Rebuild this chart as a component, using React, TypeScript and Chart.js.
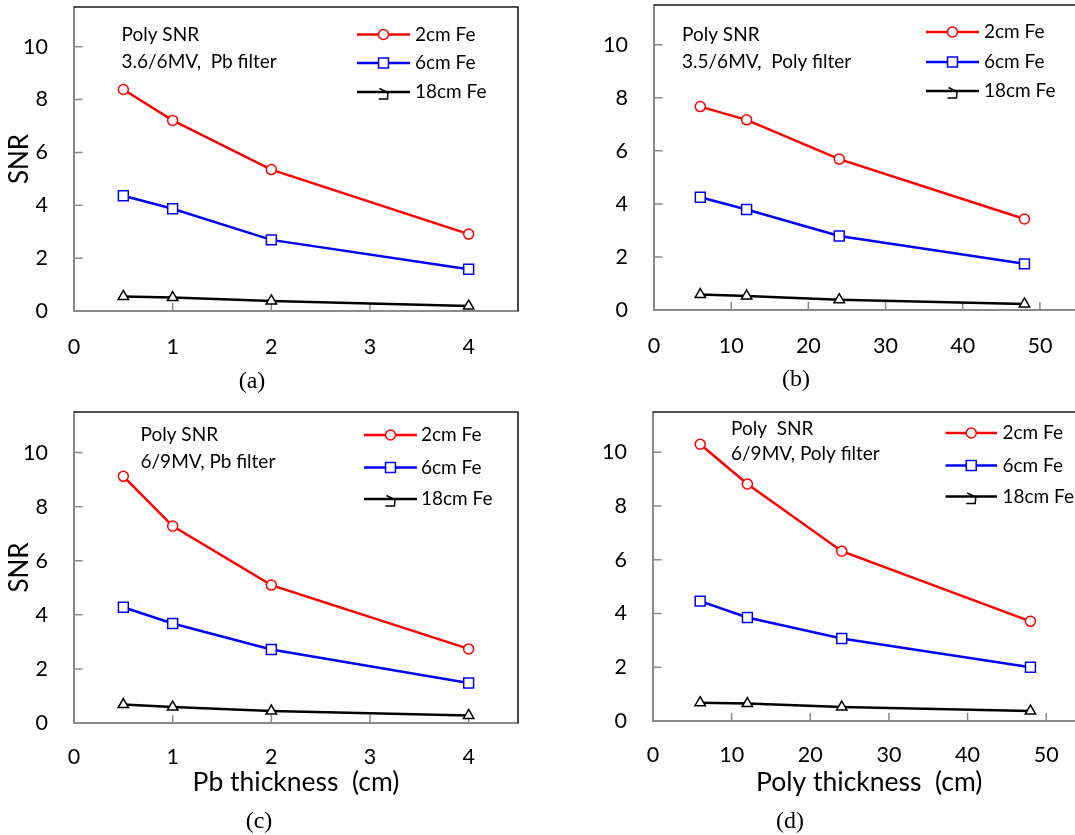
import React, { useEffect, useRef } from 'react';
import { Chart, registerables } from 'chart.js';

Chart.register(...registerables);

// ---------------- data ----------------
const pbThickness = [0.5, 1, 2, 4];
const polyThickness = [6, 12, 24, 48];
const pbTicks = [0, 1, 2, 3, 4];
const polyTicks = [0, 10, 20, 30, 40, 50];
const snrTicks = [0, 2, 4, 6, 8, 10];
const seriesNames = ['2cm Fe', '6cm Fe', '18cm Fe'];

const aFe2 = [8.38, 7.21, 5.35, 2.91];
const aFe6 = [4.36, 3.87, 2.69, 1.58];
const aFe18 = [0.55, 0.51, 0.38, 0.19];

const bFe2 = [7.67, 7.17, 5.69, 3.43];
const bFe6 = [4.25, 3.79, 2.79, 1.74];
const bFe18 = [0.58, 0.53, 0.39, 0.23];

const cFe2 = [9.12, 7.28, 5.1, 2.74];
const cFe6 = [4.28, 3.68, 2.72, 1.48];
const cFe18 = [0.68, 0.59, 0.44, 0.28];

const dFe2 = [10.3, 8.82, 6.32, 3.71];
const dFe6 = [4.46, 3.85, 3.07, 2.0];
const dFe18 = [0.68, 0.65, 0.52, 0.37];

// ---------------- styles ----------------
const SANS = 'Lato, "Open Sans", sans-serif';
const SERIF = '"Liberation Serif", "Times New Roman", serif';
const AXIS_GRAY = '#8a8a8a';
const COLORS = ['#ff0000', '#0000ff', '#000000'];
const STYLES = ['circle', 'rect', 'triangle'];
const RADII = [5, 7, 6];

type PanelCfg = {
  left: number; top: number; width: number; height: number;
  xs: number[]; xTicks: number[]; xMax: number;
  series: number[][];
  yWidth: number; xHeight: number; padTop: number; padRight: number; xLabelPad: number;
  yTitle: boolean; xTitle?: string;
  notes: string[]; noteX: number; noteY: number[];
  legX0: number; legX1: number; legTextX: number; legY: number[];
  caption: string; capX: number; capY: number;
};

const panels: PanelCfg[] = [
  {
    left: 0, top: 0, width: 540, height: 400,
    xs: pbThickness, xTicks: pbTicks, xMax: 4.5,
    series: [aFe2, aFe6, aFe18],
    yWidth: 74, xHeight: 89, padTop: 7, padRight: 22, xLabelPad: 23,
    yTitle: true,
    notes: ['Poly SNR', '3.6/6MV,  Pb filter'], noteX: 121.5, noteY: [35, 62],
    legX0: 357, legX1: 410, legTextX: 415, legY: [34.5, 63, 92],
    caption: '(a)', capX: 252, capY: 382,
  },
  {
    left: 540, top: 0, width: 600, height: 400,
    xs: polyThickness, xTicks: polyTicks, xMax: 55,
    series: [bFe2, bFe6, bFe18],
    yWidth: 114, xHeight: 90, padTop: 5, padRight: 61.5, xLabelPad: 23,
    yTitle: false,
    notes: ['Poly SNR', '3.5/6MV,  Poly filter'], noteX: 142, noteY: [35, 62],
    legX0: 386, legX1: 439, legTextX: 444, legY: [32, 62, 91],
    caption: '(b)', capX: 256, capY: 380,
  },
  {
    left: 0, top: 400, width: 540, height: 435,
    xs: pbThickness, xTicks: pbTicks, xMax: 4.5,
    series: [cFe2, cFe6, cFe18],
    yWidth: 74, xHeight: 112, padTop: 12, padRight: 22, xLabelPad: 21,
    yTitle: true, xTitle: 'Pb thickness  (cm)',
    notes: ['Poly SNR', '6/9MV, Pb filter'], noteX: 140.5, noteY: [35, 62],
    legX0: 364, legX1: 417, legTextX: 421, legY: [35, 67.5, 99],
    caption: '(c)', capX: 259, capY: 421.5,
  },
  {
    left: 540, top: 400, width: 600, height: 435,
    xs: polyThickness, xTicks: polyTicks, xMax: 55,
    series: [dFe2, dFe6, dFe18],
    yWidth: 113, xHeight: 114, padTop: 12, padRight: 54.5, xLabelPad: 21,
    yTitle: false, xTitle: 'Poly thickness  (cm)',
    notes: ['Poly  SNR', '6/9MV, Poly filter'], noteX: 191, noteY: [29, 54],
    legX0: 405.5, legX1: 457, legTextX: 462.5, legY: [33, 65.5, 96.5],
    caption: '(d)', capX: 250, capY: 421.5,
  },
];

function drawMarker(ctx: CanvasRenderingContext2D, idx: number, x: number, y: number) {
  ctx.save();
  ctx.strokeStyle = COLORS[idx];
  ctx.lineWidth = 1.5;
  ctx.fillStyle = '#ffffff';
  ctx.beginPath();
  if (idx === 0) {
    ctx.arc(x, y, RADII[0], 0, Math.PI * 2);
    ctx.fill();
    ctx.stroke();
  } else if (idx === 1) {
    const s = RADII[1] * Math.SQRT1_2;
    ctx.rect(x - s, y - s, 2 * s, 2 * s);
    ctx.fill();
    ctx.stroke();
  } else {
    // odd little glyph used in the original legend
    ctx.moveTo(x - 4, y - 3.5);
    ctx.lineTo(x + 3, y);
    ctx.moveTo(x - 5, y + 7);
    ctx.lineTo(x + 4, y + 7);
    ctx.lineTo(x + 4.5, y);
    ctx.stroke();
  }
  ctx.restore();
}

const decorPlugin = {
  id: 'decor',
  beforeDatasetsDraw(chart: any) {
    const { ctx, chartArea: ca, scales } = chart;
    const xs = scales.x;
    const ys = scales.y;
    ctx.save();
    ctx.strokeStyle = AXIS_GRAY;
    ctx.lineWidth = 1.5;
    ctx.beginPath();
    xs.ticks.forEach((t: any) => {
      if (t.value === xs.min) return;
      const px = xs.getPixelForValue(t.value);
      if (px >= ca.right - 1) return;
      ctx.moveTo(px, ca.bottom);
      ctx.lineTo(px, ca.bottom - 8);
    });
    ys.ticks.forEach((t: any) => {
      if (t.value === ys.min) return;
      const py = ys.getPixelForValue(t.value);
      ctx.moveTo(ca.left, py);
      ctx.lineTo(ca.left + 8.5, py);
    });
    ctx.stroke();
    // top & right plot border
    ctx.strokeStyle = '#1a1a1a';
    ctx.lineWidth = 1.6;
    ctx.beginPath();
    ctx.moveTo(ca.left, ca.top);
    ctx.lineTo(ca.right, ca.top);
    ctx.lineTo(ca.right, ca.bottom);
    ctx.stroke();
    ctx.restore();
  },
  afterDraw(chart: any) {
    const cfg: PanelCfg = chart.options.plugins.decor.cfg;
    const ctx: CanvasRenderingContext2D = chart.ctx;
    ctx.save();
    // notes
    ctx.fillStyle = '#000';
    ctx.font = `19px ${SANS}`;
    ctx.textAlign = 'left';
    ctx.textBaseline = 'middle';
    cfg.notes.forEach((n, i) => ctx.fillText(n, cfg.noteX, cfg.noteY[i]));
    // legend
    seriesNames.forEach((name, i) => {
      const y = cfg.legY[i];
      ctx.strokeStyle = COLORS[i];
      ctx.lineWidth = 2.5;
      ctx.beginPath();
      ctx.moveTo(cfg.legX0, y);
      ctx.lineTo(cfg.legX1, y);
      ctx.stroke();
      drawMarker(ctx, i, (cfg.legX0 + cfg.legX1) / 2, y);
      ctx.fillStyle = '#000';
      ctx.font = `19px ${SANS}`;
      ctx.fillText(name, cfg.legTextX, y);
    });
    // caption
    ctx.font = `24px ${SERIF}`;
    ctx.textAlign = 'center';
    ctx.fillText(cfg.caption, cfg.capX, cfg.capY);
    ctx.restore();
  },
};

function clearPadding(s: any) {
  s.paddingTop = 0;
  s.paddingBottom = 0;
  s.paddingLeft = 0;
  s.paddingRight = 0;
}

function Panel({ cfg }: { cfg: PanelCfg }) {
  const ref = useRef<HTMLCanvasElement | null>(null);
  useEffect(() => {
    if (!ref.current) return;
    const datasets = cfg.series.map((vals, i) => ({
      label: seriesNames[i],
      data: cfg.xs.map((x, j) => ({ x, y: vals[j] })),
      borderColor: COLORS[i],
      borderWidth: 2.5,
      pointStyle: STYLES[i] as any,
      pointRadius: RADII[i],
      pointBorderWidth: 1.5,
      pointBorderColor: COLORS[i],
      pointBackgroundColor: '#ffffff',
      tension: 0,
      fill: false,
      clip: false as any,
    }));
    const chart = new Chart(ref.current, {
      type: 'line',
      data: { datasets },
      plugins: [decorPlugin],
      options: {
        animation: false,
        responsive: false,
        devicePixelRatio: 1,
        events: [],
        layout: {
          autoPadding: false,
          padding: { left: 0, top: cfg.padTop, right: cfg.padRight, bottom: 0 },
        } as any,
        plugins: {
          legend: { display: false },
          tooltip: { enabled: false },
          decor: { cfg },
        } as any,
        scales: {
          x: {
            type: 'linear',
            min: 0,
            max: cfg.xMax,
            afterBuildTicks: (s: any) => { s.ticks = cfg.xTicks.map((v) => ({ value: v })); },
            afterFit: (s: any) => { s.height = cfg.xHeight; clearPadding(s); },
            grid: { display: false, drawTicks: false },
            border: { display: true, color: AXIS_GRAY, width: 2 },
            ticks: {
              color: '#000',
              padding: cfg.xLabelPad,
              font: { family: SANS, size: 21.5 },
              maxRotation: 0,
              autoSkip: false,
              callback: (v: any) => String(v),
            },
            title: cfg.xTitle
              ? {
                  display: true,
                  text: cfg.xTitle,
                  color: '#000',
                  font: { family: SANS, size: 26.5 },
                  padding: { top: 0, bottom: 36.5 },
                }
              : { display: false },
          },
          y: {
            type: 'linear',
            min: 0,
            max: 11.5,
            afterBuildTicks: (s: any) => { s.ticks = snrTicks.map((v) => ({ value: v })); },
            afterFit: (s: any) => { s.width = cfg.yWidth; clearPadding(s); },
            grid: { display: false, drawTicks: false },
            border: { display: true, color: AXIS_GRAY, width: 2 },
            ticks: {
              color: '#000',
              padding: 26,
              font: { family: SANS, size: 21.5 },
              callback: (v: any) => String(v),
            },
            title: cfg.yTitle
              ? {
                  display: true,
                  text: 'SNR',
                  color: '#000',
                  font: { family: SANS, size: 26 },
                  padding: { top: 4.5, bottom: 0 },
                }
              : { display: false },
          },
        },
      },
    });
    return () => chart.destroy();
  }, [cfg]);
  return (
    <canvas
      ref={ref}
      width={cfg.width}
      height={cfg.height}
      style={{ position: 'absolute', left: cfg.left, top: cfg.top, width: cfg.width, height: cfg.height }}
    />
  );
}

export default function App() {
  useEffect(() => {
    document.body.style.margin = '0';
  }, []);
  return (
    <div
      style={{
        position: 'fixed',
        left: 0,
        top: 0,
        width: 1075,
        height: 835,
        overflow: 'hidden',
        background: '#ffffff',
      }}
    >
      {panels.map((p) => (
        <Panel key={p.caption} cfg={p} />
      ))}
    </div>
  );
}
